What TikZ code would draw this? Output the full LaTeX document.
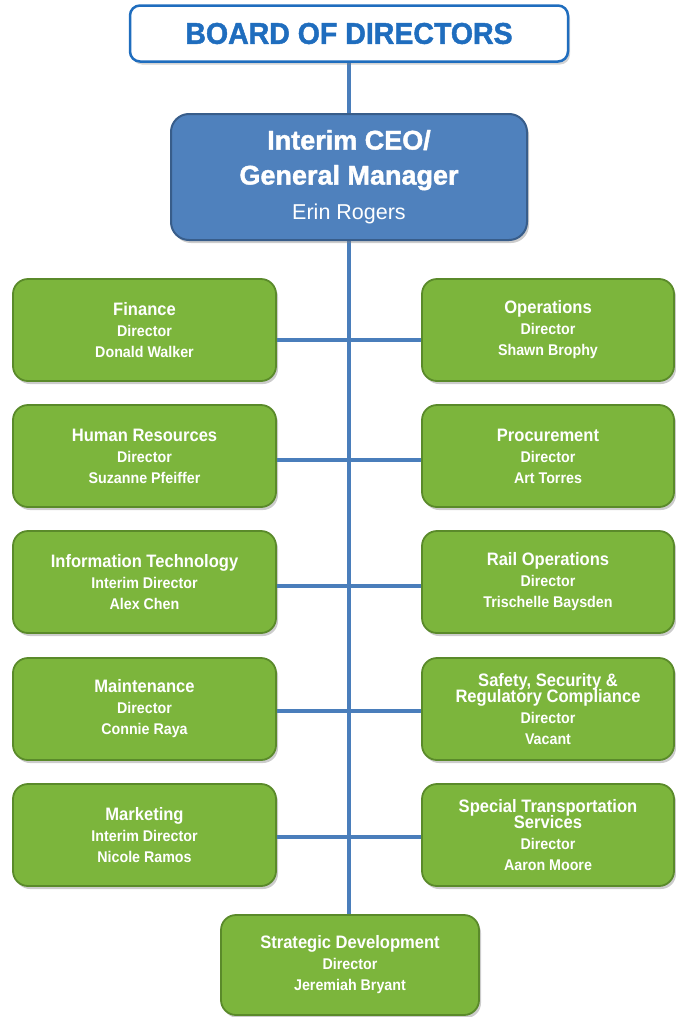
\documentclass[tikz,border=0pt]{standalone}
\usepackage{fontspec}
\setmainfont{Liberation Sans}
\newfontfamily\narrow[FakeStretch=0.92]{Liberation Sans}
\newfontfamily\heavy[FakeBold=1.5]{Liberation Sans Bold}
\newfontfamily\boardfont[FakeStretch=0.95,FakeBold=1.5]{Liberation Sans Bold}
\usetikzlibrary{shadows}
\definecolor{lineblue}{HTML}{4A7EBB}
\definecolor{boardblue}{HTML}{1F6DBE}
\definecolor{ceofill}{HTML}{4F81BD}
\definecolor{ceoedge}{HTML}{385D8A}
\definecolor{greenfill}{HTML}{7CB53C}
\definecolor{greenedge}{HTML}{5A8A2A}
\tikzset{
  conn/.style={draw=lineblue, line width=4pt},
  board/.style={draw=boardblue, line width=2.5pt, fill=white, rounded corners=10pt,
    minimum width=438pt, minimum height=56pt, inner sep=0pt,
    drop shadow={shadow xshift=2pt, shadow yshift=-3pt, opacity=0.35}},
  ceo/.style={draw=ceoedge, line width=2pt, fill=ceofill, rounded corners=18pt,
    minimum width=356pt, minimum height=126pt, inner sep=0pt, text=white, align=center,
    font=\fontsize{27}{35}\selectfont,
    drop shadow={shadow xshift=2pt, shadow yshift=-3pt, opacity=0.4}},
  dept/.style={draw=greenedge, line width=1.8pt, fill=greenfill, rounded corners=15pt,
    minimum height=102pt, inner sep=0pt, text=white, align=center,
    font=\narrow\bfseries\fontsize{15.5}{21}\selectfont,
    drop shadow={shadow xshift=2pt, shadow yshift=-3pt, opacity=0.4}},
  lbox/.style={dept, minimum width=263pt},
  rbox/.style={dept, minimum width=252pt},
}
\newcommand{\hd}[1]{{\fontsize{18}{21}\selectfont #1}}
\begin{document}
\begin{tikzpicture}[x=1pt, y=-1pt]
\useasboundingbox (0,0) rectangle (676,1017);
\coordinate (top) at (349,62);
\coordinate (bot) at (349,915);
\coordinate (r1) at (349,340);
\coordinate (r2) at (349,460);
\coordinate (r3) at (349,586);
\coordinate (r4) at (349,711);
\coordinate (r5) at (349,837);
\draw[conn] (top) -- (bot);

\node[lbox] (fin) at (144.5,330) {\hd{Finance}\\Director\\Donald Walker};
\node[rbox] (ops) at (548,330) {\hd{Operations}\\Director\\Shawn Brophy};
\node[lbox] (hr) at (144.5,456) {\hd{Human Resources}\\Director\\Suzanne Pfeiffer};
\node[rbox] (proc) at (548,456) {\hd{Procurement}\\Director\\Art Torres};
\node[lbox] (it) at (144.5,582) {\hd{Information Technology}\\Interim Director\\Alex Chen};
\node[rbox] (rail) at (548,582) {\hd{Rail Operations}\\Director\\Trischelle Baysden};
\node[lbox] (mnt) at (144.5,709) {\hd{Maintenance}\\Director\\Connie Raya};
\node[rbox] (ssr) at (548,709) {\hd{Safety, Security \&}\\[-5pt]\hd{Regulatory Compliance}\\Director\\Vacant};
\node[lbox] (mkt) at (144.5,835) {\hd{Marketing}\\Interim Director\\Nicole Ramos};
\node[rbox] (sts) at (548,835) {\hd{Special Transportation}\\[-5pt]\hd{Services}\\Director\\Aaron Moore};
\node[dept, minimum width=258pt, minimum height=100pt] (sd) at (350,965) {\hd{Strategic Development}\\Director\\Jeremiah Bryant};

\draw[conn] (fin.east |- r1) -- (r1) -- (ops.west |- r1);
\draw[conn] (hr.east |- r2) -- (r2) -- (proc.west |- r2);
\draw[conn] (it.east |- r3) -- (r3) -- (rail.west |- r3);
\draw[conn] (mnt.east |- r4) -- (r4) -- (ssr.west |- r4);
\draw[conn] (mkt.east |- r5) -- (r5) -- (sts.west |- r5);

\node[board] (bod) at (349,33.5) {\textcolor{boardblue}{\boardfont\fontsize{30}{30}\selectfont BOARD OF DIRECTORS}};
\node[ceo] (ceo) at (349,177) {\heavy Interim CEO/\\\heavy General Manager\\\fontsize{21.5}{35}\selectfont Erin Rogers};
\end{tikzpicture}
\end{document}
